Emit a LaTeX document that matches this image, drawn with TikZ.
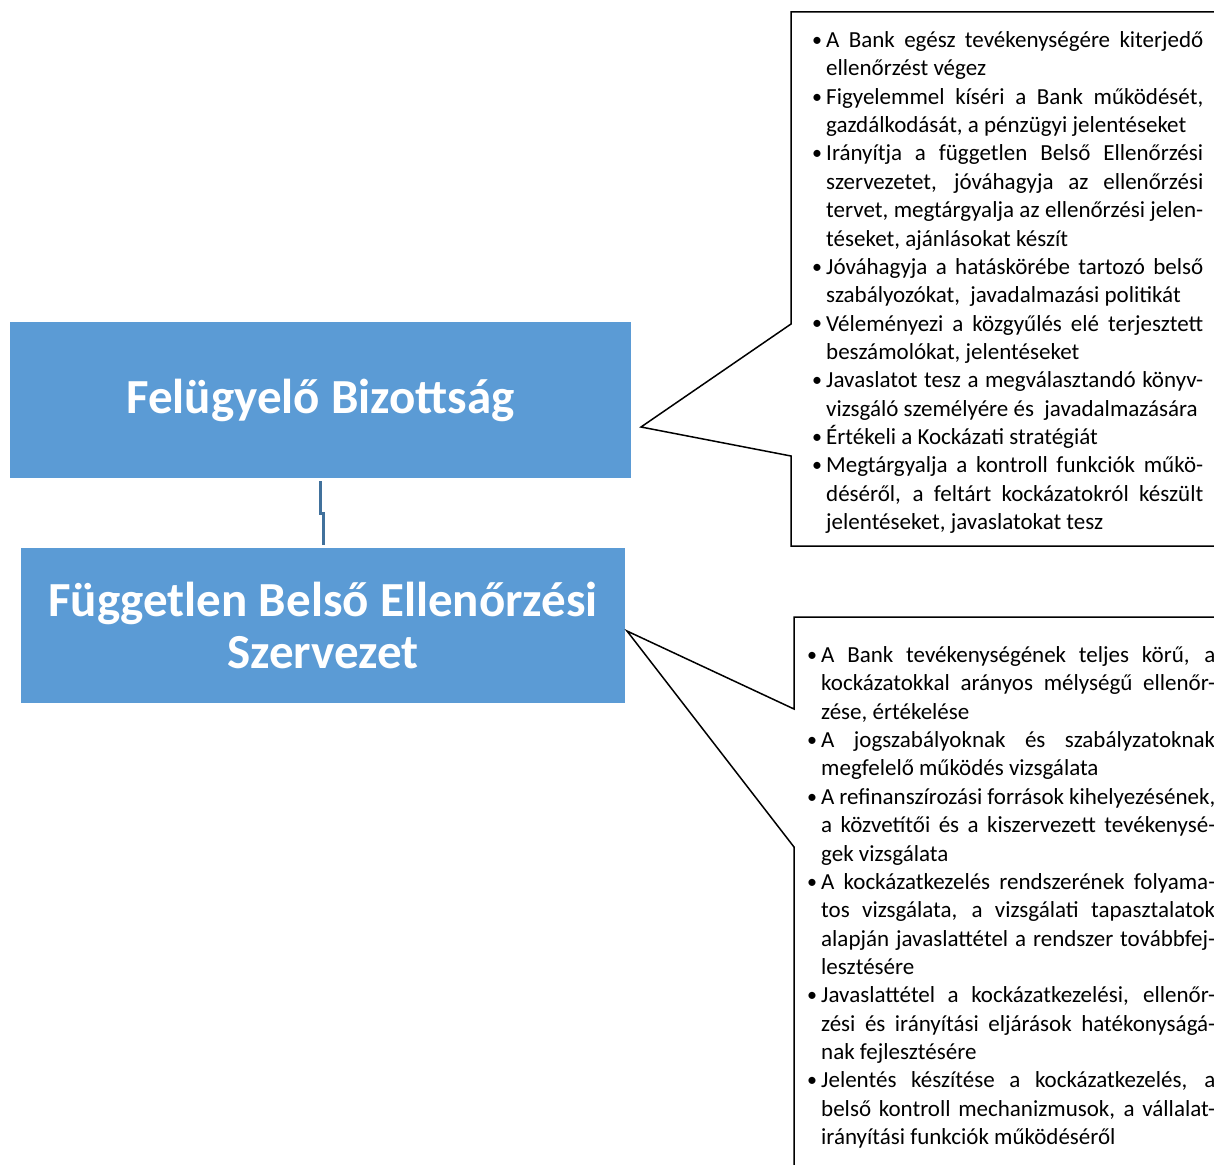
\documentclass[tikz,border=0pt]{standalone}
\usepackage{fontspec}
\setmainfont{Carlito}
\usetikzlibrary{positioning}
\definecolor{boxblue}{HTML}{5B9BD5}
\definecolor{lineblue}{HTML}{41719C}
\tolerance=10000
\hyphenpenalty=10000
\newcommand{\bpont}{\par\noindent\spaceskip=0.226em plus 0.6em minus 0.12em\relax
  \hangindent=14pt\hangafter=1%
  \makebox[14pt][l]{\raisebox{1.2pt}{\fontsize{20}{20}\selectfont\textbullet}}\ignorespaces}
\tikzset{
  titlebox/.style={fill=boxblue, text=white, inner sep=0pt, align=center,
    font=\fontsize{49}{52}\selectfont\bfseries},
  callout/.style={draw=black, line width=1.5pt, line join=miter},
  listtext/.style={anchor=north west, inner sep=0pt, align=justify,
    font=\fontsize{23}{28.35}\selectfont},
}
\begin{document}
\begin{tikzpicture}[x=1pt, y=-1pt]
\path[use as bounding box, clip] (0,0) rectangle (1214,1164);
% a két kék doboz
\node[titlebox, minimum width=621pt, minimum height=156pt] (fb) at (320.5,400) {Felügyelő Bizottság};
\node[titlebox, minimum width=604pt, minimum height=155pt] (fbe) at (323,625.5) {Független Belső Ellenőrzési\\Szervezet};
\draw[lineblue, line width=3pt] ([yshift=-3pt]fb.south) -- ++(0,32) -| ([yshift=3pt]fbe.north);

% felső szövegdoboz
\coordinate (csucs1) at (641,427);
\draw[callout] (csucs1) -- (791,324) -- (791,12) -- (1230,12) -- (1230,546) -- (791,546) -- (791,456) -- cycle;
\node[listtext, text width=391pt] (lista1) at (812,19) {%
\bpont A Bank egész tevékenységére kiterjedő\linebreak ellenőrzést végez
\bpont Figyelemmel kíséri a Bank működését,\linebreak gazdálkodását, a pénzügyi jelentéseket
\bpont Irányítja a független Belső Ellenőrzési\linebreak szervezetet, jóváhagyja az ellenőrzési\linebreak tervet, megtárgyalja az ellenőrzési jelen-\linebreak téseket, ajánlásokat készít
\bpont Jóváhagyja a hatáskörébe tartozó belső\linebreak szabályozókat,\ \ javadalmazási politikát
\bpont Véleményezi a közgyűlés elé terjesztett\linebreak beszámolókat, jelentéseket
\bpont Javaslatot tesz a megválasztandó könyv-\linebreak vizsgáló személyére és\ \ javadalmazására
\bpont Értékeli a Kockázati stratégiát
\bpont Megtárgyalja a kontroll funkciók műkö-\linebreak déséről, a feltárt kockázatokról készült\linebreak jelentéseket, javaslatokat tesz\par};

% alsó szövegdoboz
\coordinate (csucs2) at (627,631);
\draw[callout] (csucs2) -- (794,709) -- (794,617) -- (1230,617) -- (1230,1180) -- (794,1180) -- (794,847) -- cycle;
\node[listtext, text width=408pt] (lista2) at (807,634) {%
\bpont A Bank tevékenységének teljes körű, a\linebreak kockázatokkal arányos mélységű ellenőr-\linebreak zése, értékelése
\bpont A jogszabályoknak és szabályzatoknak\linebreak megfelelő működés vizsgálata
\bpont A refinanszírozási források kihelyezésének,\linebreak a közvetítői és a kiszervezett tevékenysé-\linebreak gek vizsgálata
\bpont A kockázatkezelés rendszerének folyama-\linebreak tos vizsgálata, a vizsgálati tapasztalatok\linebreak alapján javaslattétel a rendszer továbbfej-\linebreak lesztésére
\bpont Javaslattétel a kockázatkezelési, ellenőr-\linebreak zési és irányítási eljárások hatékonyságá-\linebreak nak fejlesztésére
\bpont Jelentés készítése a kockázatkezelés, a\linebreak belső kontroll mechanizmusok, a vállalat-\linebreak irányítási funkciók működéséről\par};
\end{tikzpicture}
\end{document}
